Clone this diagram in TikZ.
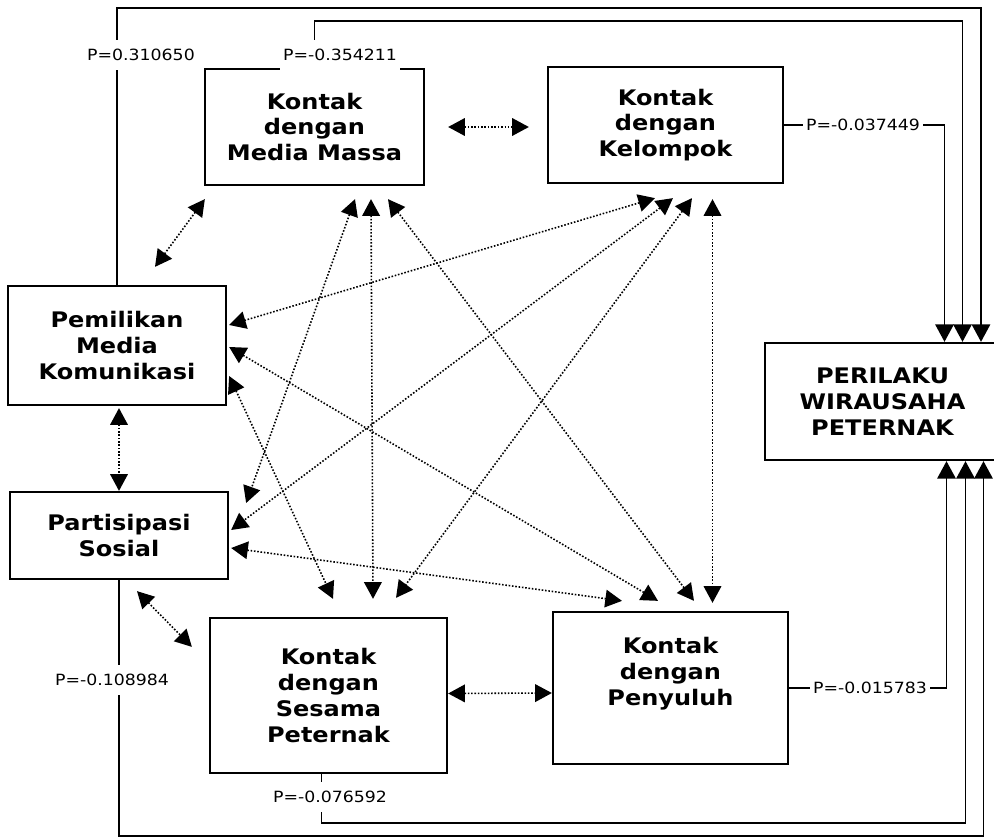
\documentclass[tikz,border=0pt]{standalone}
\usepackage{fontspec}
\newfontfamily\diagfont{DejaVu Sans}[FakeStretch=1.12]
\usetikzlibrary{arrows.meta,calc}

\begin{document}
\begin{tikzpicture}
[x=0.02cm,y=-0.02cm,
  boxDecorate/.style={shape=rectangle,draw,line width=1.3pt,align=center,inner sep=0pt,%
    font=\diagfont\bfseries\fontsize{12.2}{14.7}\selectfont},%
  linkDecorate/.style={{Triangle[length=9.5pt,width=10pt]}-{Triangle[length=9.5pt,width=10pt]},%
    densely dotted,line width=0.9pt},%
  pathDecorate/.style={-{Triangle[length=10pt,width=10.5pt]},line width=1.1pt},%
  labelDecorate/.style={fill=white,inner xsep=2pt,inner ysep=5pt,%
    font=\diagfont\fontsize{8.8}{10}\selectfont}]
\useasboundingbox (0,0) rectangle (994,837);
%% boxes
\foreach \nodename/\x/\y/\w/\h/\nodetext in {
  MM/314.5/127/219/116/{Kontak\\dengan\\Media Massa},
  KK/665.5/125/235/116/{Kontak\\dengan\\Kelompok},
  PM/117/345.5/218/119/{Pemilikan\\Media\\Komunikasi},
  PS/119/535.5/218/87/{Partisipasi\\Sosial},
  SP/328.5/695.5/237/155/{Kontak\\dengan\\Sesama\\Peternak},
  PY/670.5/688/235/152/{Kontak\\dengan\\Penyuluh\\\strut},
  PW/882.5/401.5/235/117/{PERILAKU\\WIRAUSAHA\\PETERNAK}}
{
  \node (\nodename) at (\x,\y) [boxDecorate,minimum width=\w*0.02cm,minimum height=\h*0.02cm] {\nodetext};
}
%% correlations (two-way)
\foreach \startnode/\sx/\sy/\endnode/\ex/\ey in {
  MM.east/23/0/KK.west/-18/2,
  MM.south west/1/13/PM.north/38/-18,
  PM.south/2/2/PS.north/0/0,
  PS.south/18/11/SP.north west/-17/30,
  SP.east/0/-2/PY.west/0/5,
  MM.south/40.5/13/PS.east/17/-32.5,
  MM.south/56.5/13/SP.north/44.5/-18,
  MM.south/73.5/13/PY.north/23.5/-10,
  KK.south/-10.5/14/PM.east/2/-20.5,
  KK.south/7.5/14/PS.east/2/-5.5,
  KK.south/26.5/14/SP.north/67.5/-19,
  KK.south/47/15/PY.north/42/-8,
  PM.east/2/1.5/PY.north/-12.5/-10,
  PM.east/2/30.5/SP.north/4.5/-18,
  PS.east/2/12.5/PY.north/-48.5/-10}
{
  \draw[linkDecorate] ($(\startnode)+(\sx,\sy)$) -- ($(\endnode)+(\ex,\ey)$);
}
%% paths to the outcome
\draw[pathDecorate] (PM.north) -- ++(0,-277) -| ($(PW.north)+(98.5,0)$);
\draw[pathDecorate] (MM.north) -- ++(0,-47) -| ($(PW.north)+(80,0)$);
\draw[pathDecorate] (KK.east) -| ($(PW.north)+(62,0)$);
\draw[pathDecorate] (PY.east) -| ($(PW.south)+(64,0)$);
\draw[pathDecorate] ($(SP.south)+(-7,0)$) -- ++(0,49) -| ($(PW.south)+(83,0)$);
\draw[pathDecorate] (PS.south) -- ++(0,256) -| ($(PW.south)+(101,0)$);
%% path coefficients
\foreach \nodename/\x/\y/\value in {pPM/141/55/0.310650, pMM/340/55/-0.354211,
  pKK/863/125/-0.037449, pPY/870/688/-0.015783, pSP/330/797/-0.076592, pPS/112/680/-0.108984}
{
  \node (\nodename) at (\x,\y) [labelDecorate] {P=\value};
}
\end{tikzpicture}
\end{document}
